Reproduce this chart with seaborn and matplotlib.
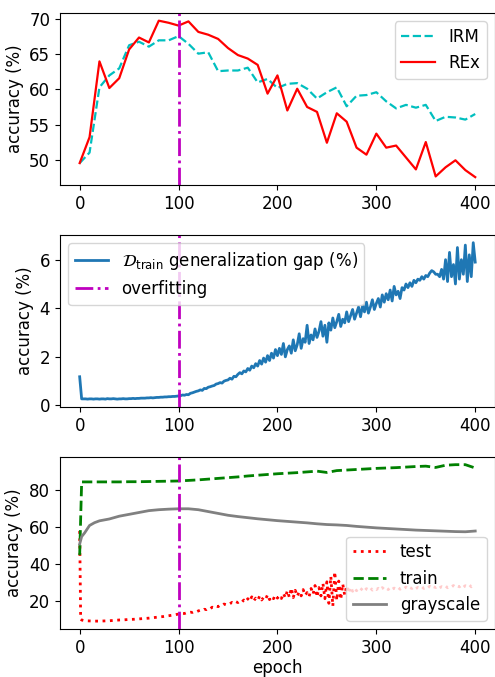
import pandas as pd
import seaborn as sns
import matplotlib
matplotlib.use("Agg")
import matplotlib.pyplot as plt

# top panel: test accuracy every 10 epochs
epochs_10 = list(range(0, 401, 10))
irm_acc = [49.5, 51.0, 60.3, 62.0, 63.0, 66.3, 66.8, 66.1, 67.0, 67.0,
           67.6, 66.5, 65.1, 65.3, 62.6, 62.7, 62.7, 63.1, 61.0, 61.5,
           60.2, 60.8, 60.9, 60.1, 58.7, 59.6, 60.3, 57.6, 59.1, 59.2,
           59.6, 58.3, 57.3, 57.8, 57.4, 57.8, 55.5, 56.1, 56.0, 55.7,
           56.5]
rex_acc = [49.5, 53.2, 64.0, 60.2, 61.6, 65.7, 67.4, 66.7, 69.8, 69.5,
           69.1, 69.7, 68.2, 67.8, 67.2, 65.9, 64.9, 64.4, 63.5, 59.4,
           62.0, 57.0, 60.1, 57.5, 56.8, 52.4, 56.6, 55.4, 51.7, 50.7,
           53.7, 51.7, 52.0, 50.3, 48.6, 52.5, 47.6, 48.9, 49.9, 48.5,
           47.5]

# middle panel: generalization gap every 2 epochs
epochs_2 = list(range(0, 401, 2))
gap = [1.18, 0.27, 0.27, 0.27, 0.26, 0.27, 0.27, 0.26, 0.27, 0.27,
       0.26, 0.27, 0.27, 0.26, 0.28, 0.27, 0.27, 0.28, 0.27, 0.26,
       0.27, 0.27, 0.28, 0.27, 0.27,
       0.28, 0.28, 0.29, 0.28, 0.29, 0.29, 0.30, 0.30, 0.30, 0.31,
       0.31, 0.32, 0.31, 0.32, 0.33, 0.33, 0.34, 0.34, 0.35, 0.35,
       0.36, 0.36, 0.37, 0.37, 0.38, 0.39,
       0.40, 0.43, 0.42, 0.45, 0.44, 0.50, 0.52, 0.55, 0.58, 0.60,
       0.64, 0.62, 0.70, 0.69, 0.75, 0.77, 0.80, 0.82, 0.88, 0.90,
       0.94, 0.92, 1.00, 1.03, 1.05, 1.12, 1.08, 1.20, 1.18, 1.28,
       1.35, 1.30, 1.42, 1.38, 1.52, 1.45, 1.62, 1.55, 1.72, 1.62,
       1.85, 1.70, 1.95, 1.78, 2.05, 1.85, 2.15, 1.95, 2.30, 2.05,
       2.35, 2.10, 2.55, 2.00, 2.30, 2.45, 2.15, 2.70, 2.25, 2.50,
       2.95, 2.35, 2.75, 2.60, 3.30, 2.55, 2.90, 2.70, 3.15, 2.80,
       3.05, 3.45, 2.85, 3.30, 2.60, 3.40, 3.10, 3.60, 3.20, 3.45,
       3.75, 3.25, 3.55, 3.40, 3.85, 3.45, 3.70, 3.95, 3.55, 3.80,
       4.05, 3.65, 4.10, 3.85, 4.25, 3.80, 4.05, 4.35, 3.95, 4.20,
       4.40, 4.05, 4.55, 4.25, 4.60, 4.35, 4.75, 4.30, 4.90, 4.55,
       4.70, 4.40, 4.85, 4.75, 5.00, 4.85, 5.05, 4.90, 5.15, 5.05,
       5.20, 5.15, 5.30, 5.20, 5.35, 5.30, 5.45, 5.55, 5.50, 5.40,
       5.40, 5.30, 5.60, 5.20, 6.00, 5.10, 6.30, 5.30, 5.80, 5.00,
       6.50, 5.20, 6.00, 5.40, 6.60, 5.10, 6.20, 5.30, 6.70, 5.90]

# bottom panel
test_epochs = [0, 1, 2, 5, 10, 15, 20, 25, 30, 35, 40, 45, 50, 55, 60, 65,
               70, 75, 80, 85, 90, 95, 100] + list(range(102, 401, 2))
test_acc = [58.0, 10.5, 10.0, 9.6, 9.5, 9.4, 9.4, 9.5, 9.6, 9.8, 10.0, 10.1,
            10.3, 10.4, 10.6, 10.8, 11.0, 11.3, 11.6, 11.9, 12.3, 12.7, 13.2,
            13.3, 13.6, 13.5, 13.9, 14.0, 14.2, 14.1, 14.6, 14.4, 14.9,
            15.3, 15.1, 15.8, 15.6, 16.4, 16.1, 16.9, 16.6, 17.5, 17.2,
            18.0, 17.8, 18.6, 18.3, 19.0, 18.8, 19.5, 19.0, 19.9, 19.4,
            20.2, 19.6, 20.8, 19.8, 21.5, 20.1, 22.5, 20.3, 21.8, 20.6,
            22.9, 20.8, 22.2, 21.2, 23.6, 21.0, 22.8, 21.5, 23.4, 21.8,
            23.2, 21.6, 24.4, 22.0, 25.8, 22.3, 27.2, 22.1, 26.0, 22.8,
            25.2, 23.0, 26.4, 23.3, 24.8, 22.6, 27.0, 23.9, 28.6, 22.4,
            27.5, 23.0, 29.8, 21.5, 30.6, 19.0, 33.5, 17.5, 36.0, 20.5,
            31.0, 21.0, 29.5, 23.5, 28.5, 24.5, 27.8, 25.5, 27.2, 25.8,
            27.0, 26.0, 27.2, 25.8, 26.9, 26.3, 27.4, 26.1, 27.0, 26.4,
            27.1, 26.2, 27.5, 26.5, 27.3, 26.4, 27.6, 26.6, 27.2, 26.8,
            27.7, 26.6, 27.4, 26.9, 27.8, 26.7, 27.5, 27.0, 27.9, 26.9,
            27.6, 27.2, 28.0, 27.0, 27.8, 27.3, 28.2, 27.1, 27.9, 27.5,
            28.3, 27.3, 28.0, 27.6, 28.4, 27.4, 28.1, 27.8, 28.6, 27.6,
            28.3, 27.9, 28.8, 27.7, 28.5, 28.1, 29.0, 27.9, 28.7, 28.3]

train_epochs = [0, 2] + list(range(10, 401, 10))
train_acc = [45.0, 84.5, 84.5, 84.5, 84.5, 84.5, 84.6, 84.6, 84.7, 84.8,
             84.9, 85.0, 85.3, 85.6, 86.0, 86.4, 86.8, 87.2, 87.7, 88.1,
             88.5, 88.9, 89.2, 89.5, 89.9, 90.3, 89.6, 90.6, 90.9, 91.2,
             91.5, 91.8, 92.0, 92.2, 92.5, 92.8, 93.0, 92.3, 93.5, 93.8,
             93.8, 92.0]

gray_epochs = [0, 2, 5, 10, 15, 20] + list(range(30, 401, 10))
gray_acc = [51.0, 55.0, 57.0, 61.0, 62.5, 63.5, 64.5, 66.0, 67.0, 68.0,
            69.0, 69.5, 69.8, 70.0, 70.0, 69.5, 68.5, 67.5, 66.5, 65.8,
            65.2, 64.6, 64.1, 63.6, 63.2, 62.8, 62.4, 61.9, 61.5, 61.3,
            61.0, 60.5, 60.1, 59.7, 59.4, 59.1, 58.8, 58.5, 58.3, 58.1,
            57.9, 57.7, 57.6, 58.0]

overfit_epoch = 100

plt.rcParams["font.size"] = 12

fig, axes = plt.subplots(3, 1, figsize=(4.95, 6.77), dpi=100)
fig.subplots_adjust(left=0.121, right=1.0, top=0.981, bottom=0.071, hspace=0.29)

# top
ax = axes[0]
sns.lineplot(x=epochs_10, y=irm_acc, ax=ax, color="c", linestyle="--", lw=1.6, label="IRM")
sns.lineplot(x=epochs_10, y=rex_acc, ax=ax, color="r", linestyle="-", lw=1.6, label="REx")
ax.axvline(overfit_epoch, color="m", ls="-.", lw=2)
ax.legend(loc="upper right")

# middle
ax = axes[1]
sns.lineplot(x=epochs_2, y=gap, ax=ax, color="C0", lw=2,
             label=r"$\mathcal{D}_{\mathrm{train}}$ generalization gap (%)")
ax.axvline(overfit_epoch, color="m", ls="-.", lw=2, label="overfitting")
ax.legend(loc="upper left")

# bottom
ax = axes[2]
sns.lineplot(x=test_epochs, y=test_acc, ax=ax, color="r", linestyle=":", lw=2, label="test")
sns.lineplot(x=train_epochs, y=train_acc, ax=ax, color="g", linestyle="--", lw=2, label="train")
sns.lineplot(x=gray_epochs, y=gray_acc, ax=ax, color="gray", linestyle="-", lw=2, label="grayscale")
ax.axvline(overfit_epoch, color="m", ls="-.", lw=2)
ax.legend(loc="lower right")
ax.set_xlabel("epoch", labelpad=2)

for ax in axes:
    ax.set_ylabel("accuracy (%)")
    ax.set_xlim(-20, 420)
axes[0].set_xlabel("")
axes[1].set_xlabel("")

fig.savefig("out.png")
